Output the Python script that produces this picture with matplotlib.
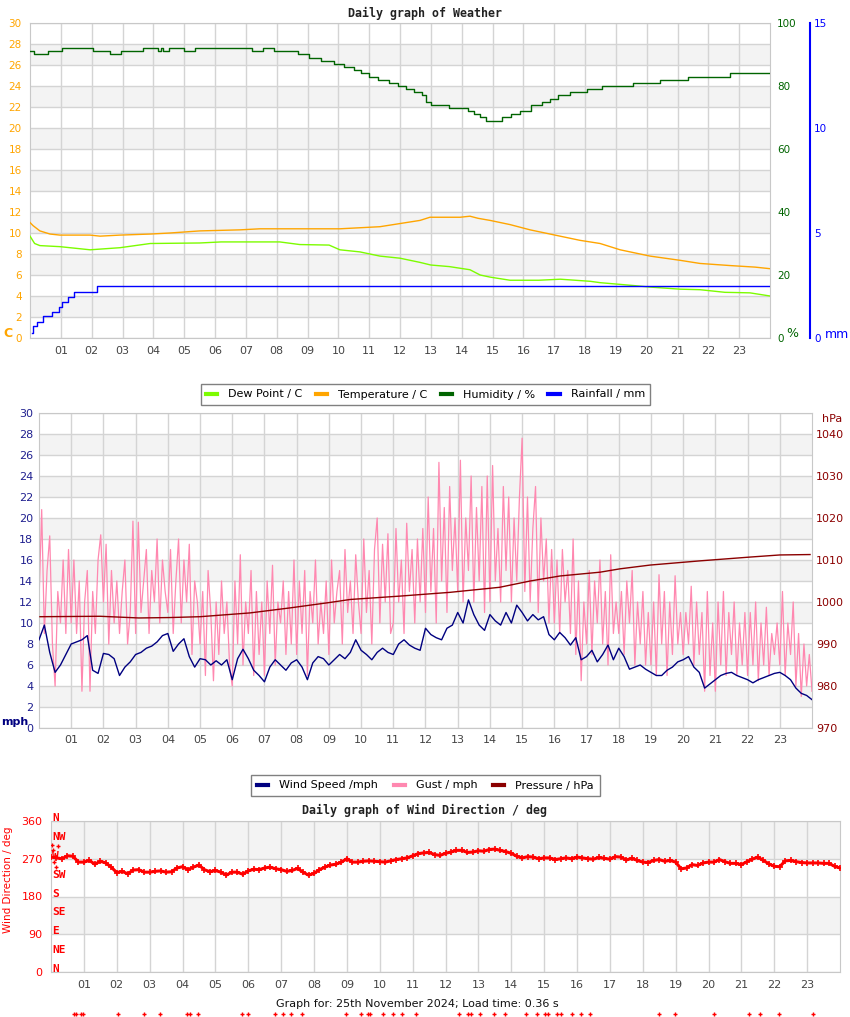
import numpy as np
import matplotlib.pyplot as plt
from matplotlib.lines import Line2D
from matplotlib.transforms import blended_transform_factory

# ---- weather panel data (hours of day) ----
temp_hours = [0.0, 0.1, 0.32, 0.65, 0.97, 1.95, 2.27, 2.92, 3.9, 4.54, 5.51, 6.81, 7.46, 10.05,
              11.35, 12.0, 12.65, 12.97, 13.95, 14.27, 14.53, 14.92, 15.57, 16.22, 17.19, 17.84,
              18.49, 19.14, 20.11, 21.08, 21.73, 22.7, 23.52, 24.0]
temp = [11.0, 10.7, 10.2, 9.9, 9.8, 9.8, 9.7, 9.8, 9.9, 10.0, 10.2, 10.3, 10.4, 10.4,
        10.6, 10.9, 11.2, 11.5, 11.5, 11.6, 11.4, 11.2, 10.8, 10.3, 9.7, 9.3,
        9.0, 8.4, 7.8, 7.4, 7.1, 6.9, 6.75, 6.6]

dew_hours = [0.0, 0.15, 0.32, 0.97, 1.95, 2.92, 3.9, 5.51, 6.2, 8.1, 8.75, 9.7, 10.05, 10.7,
             11.35, 12.0, 12.65, 13.0, 13.6, 14.27, 14.6, 14.92, 15.57, 16.5, 17.2, 18.17,
             18.49, 19.56, 20.11, 21.08, 21.73, 22.54, 23.35, 24.0]
dew = [9.7, 9.0, 8.8, 8.7, 8.4, 8.6, 9.0, 9.05, 9.15, 9.15, 8.9, 8.85, 8.4, 8.2,
       7.8, 7.6, 7.2, 6.95, 6.8, 6.5, 6.0, 5.8, 5.5, 5.5, 5.6, 5.4,
       5.27, 5.0, 4.85, 4.65, 4.6, 4.35, 4.3, 4.0]

hum_hours = [0.0, 0.13, 0.58, 1.05, 2.05, 2.6, 2.95, 3.65, 4.15, 4.25, 4.3, 4.5, 5.0, 5.35,
             7.2, 7.55, 7.9, 8.7, 9.05, 9.45, 9.85, 10.2, 10.5, 10.75, 11.0, 11.3, 11.65,
             11.95, 12.2, 12.45, 12.7, 12.85, 13.0, 13.6, 14.2, 14.4, 14.6, 14.8, 15.3, 15.6,
             15.9, 16.25, 16.6, 16.87, 17.13, 17.52, 18.07, 18.55, 19.56, 20.43, 21.34, 22.7, 24.0]
humidity = [91, 90, 91, 92, 91, 90, 91, 92, 91, 92, 91, 92, 91, 92,
            91, 92, 91, 90, 89, 88, 87, 86, 85, 84, 83, 82, 81,
            80, 79, 78, 77, 75, 74, 73, 72, 71, 70, 69, 70, 71,
            72, 74, 75, 76, 77, 78, 79, 80, 81, 82, 83, 84, 84]

rain_hours = [0.065, 0.11, 0.24, 0.43, 0.70, 0.93, 1.04, 1.22, 1.43, 2.16, 24.0]
rain = [0.22, 0.56, 0.76, 1.03, 1.24, 1.46, 1.73, 1.94, 2.2, 2.48, 2.48]

# ---- wind panel data ----
# wind speed every 10 minutes
wind = [8.4, 9.8, 7.2, 5.3, 6.0, 7.0, 8.0, 8.2, 8.4, 8.8, 5.5, 5.2,
        7.1, 7.0, 6.6, 5.0, 5.8, 6.3, 7.0, 7.2, 7.6, 7.8, 8.2, 8.8,
        9.0, 7.3, 8.0, 8.5, 6.8, 5.8, 6.6, 6.5, 6.0, 6.4, 6.0, 6.5,
        4.6, 6.6, 7.5, 6.6, 5.5, 5.0, 4.4, 5.8, 6.5, 6.0, 5.5, 6.2,
        6.5, 5.8, 4.6, 6.2, 6.8, 6.6, 6.0, 6.5, 7.0, 6.6, 7.2, 8.4,
        7.4, 7.0, 6.5, 7.2, 7.6, 7.2, 7.0, 8.0, 8.4, 7.9, 7.6, 7.4,
        9.5, 8.9, 8.6, 8.4, 9.5, 9.8, 11.0, 10.0, 12.2, 10.8, 9.8, 9.3,
        10.8, 10.2, 9.8, 11.0, 10.0, 11.7, 11.0, 10.2, 10.8, 10.3, 10.6, 8.9,
        8.4, 9.1, 8.6, 7.9, 8.6, 6.5, 6.8, 7.4, 6.3, 7.0, 7.9, 6.5,
        7.6, 6.8, 5.6, 5.8, 6.0, 5.6, 5.3, 5.0, 5.0, 5.5, 5.8, 6.3,
        6.5, 6.8, 5.8, 5.3, 3.8, 4.2, 4.6, 5.0, 5.2, 5.3, 5.0, 4.8,
        4.6, 4.3, 4.6, 4.8, 5.0, 5.2, 5.3, 5.0, 4.6, 3.8, 3.3, 3.1, 2.7]

# gust every 5 minutes
gust = [12, 20.8, 9, 15, 18.3, 8, 4.0, 13, 10, 16, 9, 17,
        10, 16, 9, 14, 3.5, 12, 15, 3.5, 13, 9, 16, 18.4,
        12, 17.5, 8, 15, 10, 14, 9, 13, 16, 8, 11, 19.7,
        9, 19.6, 11, 14, 17, 9, 15, 12, 18, 10, 16, 13,
        11, 17, 9, 14, 18, 10, 16, 12, 17.5, 7, 14, 12,
        8, 13, 5, 15, 11, 4.5, 12, 7, 14, 9, 12, 6,
        4, 14, 8, 16.5, 6, 12, 9, 15, 5, 13, 7, 12,
        5, 14, 9, 15.5, 6, 12, 10, 14, 7, 13, 8, 16,
        7, 14, 9, 15, 5, 13, 10, 16, 8, 12, 9, 14,
        7, 16, 10, 13, 15, 8, 17, 11, 14, 9, 16.5, 12,
        9, 18, 11, 15, 8, 17, 20, 10, 17.5, 12, 18.5, 9,
        10, 19, 12, 16, 9, 19.5, 13, 17, 10, 18, 12, 19,
        11, 22, 13, 19, 10, 25.3, 14, 21, 11, 23, 15, 20,
        13, 25.5, 12, 20, 15, 24, 12, 21, 14, 23, 11, 24,
        12, 25, 14, 19, 12, 23, 15, 22, 12, 20, 14, 22,
        27.6, 13, 22, 12, 19, 23, 11, 20, 14, 18, 10, 17,
        10, 16, 9, 17, 12, 15, 9, 18, 7, 14, 4.5, 12,
        8, 15, 7, 14, 10, 16, 8, 13, 6, 16.5, 9, 12,
        9, 13, 7, 14, 10, 15, 6, 12, 8, 13, 6, 11,
        6, 12, 5, 14.6, 8, 13, 5, 12, 7, 14.5, 8, 11,
        7, 11, 8, 13.5, 6, 12, 7, 11, 3.5, 13, 5, 10,
        3.5, 12, 6, 13, 5, 11, 7, 12, 5, 10, 6, 11,
        5, 11, 6, 12, 4.5, 10, 6, 11.5, 5, 9, 7, 10,
        6, 13, 5, 10, 7, 12, 4, 9, 3, 8, 4, 7, 3.5]

press_hours = [0.03, 1.9, 3.1, 4.07, 5.0, 6.55, 7.8, 9.04, 9.66, 11.2, 12.76, 14.3, 15.25,
               16.18, 17.42, 18.04, 18.98, 20.53, 22.08, 23.0, 23.94]
pressure = [996.5, 996.6, 996.2, 996.3, 996.5, 997.4, 998.6, 999.9, 1000.6, 1001.4, 1002.3,
            1003.5, 1005.0, 1006.2, 1007.1, 1007.9, 1008.8, 1009.8, 1010.7, 1011.2, 1011.3]

# ---- wind direction data (every 10 minutes) ----
wdir = [274, 272, 270, 277, 276, 262, 262, 266, 257, 264, 260, 250,
        237, 240, 234, 243, 244, 238, 238, 240, 241, 238, 239, 248,
        251, 244, 250, 255, 244, 239, 242, 238, 231, 238, 238, 233,
        241, 245, 244, 248, 250, 246, 244, 240, 242, 247, 238, 231,
        235, 244, 250, 255, 257, 262, 270, 262, 262, 264, 265, 264,
        263, 262, 265, 268, 270, 272, 277, 282, 284, 285, 280, 278,
        283, 286, 290, 290, 285, 286, 289, 288, 292, 293, 290, 287,
        283, 276, 272, 275, 274, 270, 272, 272, 268, 270, 272, 270,
        274, 272, 270, 269, 273, 271, 269, 275, 274, 267, 271, 266,
        262, 261, 266, 268, 264, 266, 262, 246, 248, 256, 254, 260,
        262, 262, 268, 263, 259, 259, 256, 263, 269, 274, 266, 258,
        252, 251, 265, 266, 263, 261, 260, 260, 260, 259, 259, 252, 248]
wdir_start_hours = [0.03, 0.06, 0.1, 0.14, 0.2]
wdir_start = [302, 290, 262, 251, 300]

mark_hours = [0.70, 0.76, 0.90, 0.98, 2.05, 2.84, 3.32, 4.15, 4.23, 4.46, 5.82, 6.00,
              6.80, 7.05, 7.31, 7.64, 8.98, 9.43, 9.64, 9.70, 10.09, 10.41, 10.67, 11.10,
              12.42, 12.68, 12.78, 13.05, 13.48, 13.81, 14.46, 14.79, 15.03, 15.12, 15.39,
              15.51, 15.84, 16.12, 16.40, 18.50, 18.99, 20.18, 21.24, 21.58, 22.15, 23.19]

compass_names = ['N', 'NE', 'E', 'SE', 'S', 'SW', 'W', 'NW', 'N']
compass_deg = [0, 45, 90, 135, 180, 225, 270, 315, 360]

hour_labels = ['%02d' % h for h in range(1, 24)]

W, H = 850, 1017
fig = plt.figure(figsize=(W / 100, H / 100), dpi=100)
GRID = '#d4d4d4'
BAND = '#f3f3f3'
MONO = 'DejaVu Sans Mono'


def box(x0, y0, x1, y1):
    return [x0 / W, 1 - y1 / H, (x1 - x0) / W, (y1 - y0) / H]


def base_axes(rect, ymax, ystep, bands, xpad):
    ax = fig.add_axes(rect)
    ax.set_xlim(0, 24)
    ax.set_ylim(0, ymax)
    for lo, hi in bands:
        ax.axhspan(lo, hi, color=BAND, lw=0, zorder=0)
    ax.set_xticks(range(1, 24))
    ax.set_xticklabels(hour_labels)
    ax.set_yticks(np.arange(0, ymax + 1, ystep))
    ax.grid(True, color=GRID, lw=1, zorder=0.5)
    ax.set_axisbelow(True)
    ax.tick_params(length=0, labelsize=8)
    ax.tick_params(axis='x', colors='#444444', pad=xpad)
    for s in ax.spines.values():
        s.set_color('#c8c8c8')
    return ax


def fig_px(x, y):
    return x / W, 1 - y / H


# ===== panel 1: weather =====
ax1 = base_axes(box(30, 23, 770, 338), 30, 2, [(v, v + 2) for v in range(2, 30, 4)], 6)
ax1.tick_params(axis='y', colors='#ffa500', labelsize=7.5, pad=6)
fig.text(*fig_px(425, 13), 'Daily graph of Weather', family=MONO, weight='bold',
         fontsize=8.4, ha='center', va='center', color='#222222')

ax1.plot(temp_hours, temp, color='#ffa500', lw=1, zorder=3)
ax1.plot(dew_hours, dew, color='#7cfc00', lw=1, zorder=3)

axh = ax1.twinx()
axh.set_ylim(0, 100)
axh.set_yticks(range(0, 101, 20))
axh.tick_params(length=0, colors='#006400', labelsize=7.5, pad=5)
axh.plot(hum_hours, humidity, color='#006400', lw=1, drawstyle='steps-post')
for s in axh.spines.values():
    s.set_visible(False)

axr = ax1.twinx()
axr.set_ylim(0, 15)
axr.set_yticks([0, 5, 10, 15])
axr.spines['right'].set_position(('outward', 28.8))
for k, s in axr.spines.items():
    s.set_visible(k == 'right')
axr.spines['right'].set_color('#0000ff')
axr.spines['right'].set_linewidth(1.5)
axr.tick_params(length=0, colors='#0000ff', labelsize=7.5, pad=3)
axr.plot(rain_hours, rain, color='#0000ff', lw=1, drawstyle='steps-post')

fig.text(*fig_px(3, 333), 'C', color='#ffa500', weight='bold', fontsize=9, va='center')
fig.text(*fig_px(786, 333), '%', color='#006400', fontsize=9, va='center')
fig.text(*fig_px(825, 334), 'mm', color='#0000ff', fontsize=9, va='center')

h1 = [Line2D([], [], color=c, lw=3) for c in ['#7cfc00', '#ffa500', '#006400', '#0000ff']]
leg1 = fig.legend(h1, ['Dew Point / C', 'Temperature / C', 'Humidity / %', 'Rainfall / mm'],
                  loc='center', bbox_to_anchor=fig_px(425.5, 394.5), ncol=4, fontsize=8,
                  fancybox=False, edgecolor='#808080', framealpha=1, handlelength=1.0,
                  handletextpad=1.0, columnspacing=1.2, borderpad=0.5)
leg1.get_frame().set_linewidth(1)

# ===== panel 2: wind / pressure =====
ax2 = base_axes(box(39, 413, 812, 728), 30, 2, [(v, v + 2) for v in range(2, 30, 4)], 5)
ax2.tick_params(axis='y', colors='#1f1f8f', labelsize=8, pad=4)
wind_hours = np.arange(len(wind)) / 6.0
gust_hours = np.arange(len(gust)) / 12.0
ax2.plot(gust_hours, gust, color='#ff88b0', lw=0.9, zorder=2)
ax2.plot(wind_hours, wind, color='#000080', lw=1, zorder=3)

axp = ax2.twinx()
axp.set_ylim(970, 1045)
axp.set_yticks(range(970, 1041, 10))
axp.tick_params(length=0, colors='#8b0000', labelsize=8, pad=3)
for s in axp.spines.values():
    s.set_visible(False)
axp.plot(press_hours, pressure, color='#8b0000', lw=1)

fig.text(*fig_px(822, 419), 'hPa', color='#8b0000', fontsize=8, va='center')
fig.text(*fig_px(1, 722), 'mph', color='#000080', weight='bold', fontsize=8, va='center')

h2 = [Line2D([], [], color=c, lw=3) for c in ['#000080', '#ff88b0', '#8b0000']]
fig.legend(h2, ['Wind Speed /mph', 'Gust / mph', 'Pressure / hPa'],
           loc='center', bbox_to_anchor=fig_px(425.5, 785.5), ncol=3, fontsize=8,
           fancybox=False, edgecolor='#808080', framealpha=1, handlelength=1.0,
           handletextpad=1.0, columnspacing=1.4, borderpad=0.5)

# ===== panel 3: wind direction =====
ax3 = base_axes(box(51, 821, 840, 972), 360, 90, [(90, 180), (270, 360)], 6)
ax3.tick_params(axis='y', colors='#ff0000', labelsize=8, pad=6)
fig.text(*fig_px(425, 810), 'Daily graph of Wind Direction / deg', family=MONO,
         weight='bold', fontsize=8.4, ha='center', va='center', color='#222222')
wdir_hours = np.arange(len(wdir)) / 6.0
ax3.plot(wdir_hours, wdir, color='#ff0000', lw=2.2, marker='+', ms=4, mew=1.2, zorder=3)
ax3.plot(wdir_start_hours, wdir_start, color='#ff0000', ls='none', marker='+', ms=3.5,
         mew=1, zorder=3)

left_tr = blended_transform_factory(fig.transFigure, ax3.transData)
for name, deg in zip(compass_names, compass_deg):
    ax3.text(52 / W, deg + 7, name, transform=left_tr, family=MONO, weight='bold',
             fontsize=8, color='#ff0000', va='center', ha='left', clip_on=False)

fig.text(*fig_px(8, 880), 'Wind Direction / deg', rotation=90, color='#ff0000',
         fontsize=7.5, ha='center', va='center')

bottom_tr = blended_transform_factory(ax3.transData, fig.transFigure)
ax3.plot(mark_hours, [1 - 1014 / H] * len(mark_hours), transform=bottom_tr, ls='none',
         marker='+', ms=3, mew=1, color='#ff0000', clip_on=False)

fig.text(*fig_px(276, 1004), 'Graph for: 25th November 2024; Load time: 0.36 s',
         fontsize=8, va='center', color='#111111')

fig.savefig('out.png', dpi=100)
